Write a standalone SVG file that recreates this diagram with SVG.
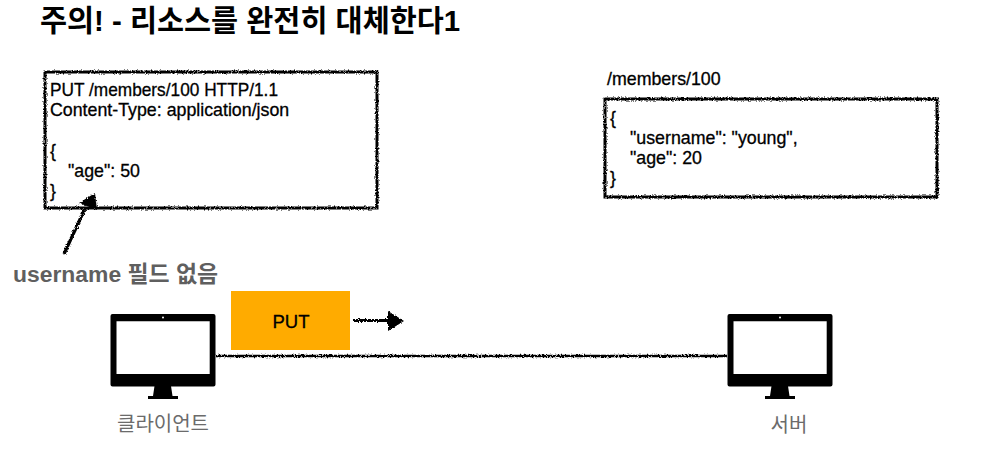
<svg xmlns="http://www.w3.org/2000/svg" width="994" height="473" viewBox="0 0 994 473">
<style>
text{font-family:"Liberation Sans","Noto Sans CJK KR",sans-serif;fill:#000}
.t{font-size:17.800px;stroke:#000;stroke-width:.3px}
.box{fill:#fff;stroke:#000;stroke-width:3;filter:url(#rough)}
.line{fill:none;stroke:#000;filter:url(#rough)}
.lbl{font-size:20px;fill:#6b6b6b;text-anchor:middle}
</style>
<defs>
<filter id="rough" x="0" y="0" width="994" height="473" filterUnits="userSpaceOnUse" primitiveUnits="userSpaceOnUse">
<feTurbulence type="fractalNoise" baseFrequency="0.7" numOctaves="2" seed="4" result="n"/>
<feDisplacementMap in="SourceGraphic" in2="n" scale="3.500" xChannelSelector="R" yChannelSelector="G"/>
</filter>
<g id="monitor">
<path fill-rule="evenodd" d="M112.500 314H213.500Q215.500 314 215.500 316V384.500Q215.500 386.500 213.500 386.500H112.500Q110.500 386.500 110.500 384.500V316Q110.500 314 112.500 314ZM116.500 321.300V374H209.700V321.300Z"/>
<path d="M154.500 386H171L172.500 396H178V399H148V396H153Z"/>
<circle cx="163" cy="317.500" r="1" fill="#fff"/>
</g>
</defs>
<g id="title"><text x="40" y="31" style="font-size:29.400px;font-weight:700">주의! - 리소스를 완전히 대체한다1</text></g>
<g id="connectors">
<path class="line" stroke-width="2.600" d="M216 356H727"/>
<path class="line" stroke-width="2.800" d="M353 320.500H388"/>
<path d="M388 311L404 321L388 331Z" filter="url(#rough)"/>
<path class="line" stroke-width="3.200" d="M64 254L88 202"/>
</g>
<g id="request">
<rect class="box" x="45" y="72" width="332" height="136"/>
<text class="t" x="50" y="96" textLength="228" lengthAdjust="spacingAndGlyphs">PUT /members/100 HTTP/1.1</text>
<text class="t" x="50" y="116">Content-Type: application/json</text>
<text class="t" x="50" y="157">{</text>
<text class="t" x="68" y="177">"age": 50</text>
<text class="t" x="50" y="197">}</text>
</g>
<g id="arrowhead"><path d="M95 193L79 203L97 210Z" filter="url(#rough)"/></g>
<g id="note"><text x="13" y="282" style="font-size:22.900px;font-weight:700;fill:#5f5f5f">username 필드 없음</text></g>
<g id="resource-label"><text class="t" x="607" y="85">/members/100</text></g>
<g id="resource">
<rect class="box" x="605" y="99" width="332" height="98"/>
<text class="t" x="610" y="124">{</text>
<text class="t" x="630" y="144">"username": "young",</text>
<text class="t" x="630" y="164">"age": 20</text>
<text class="t" x="610" y="184">}</text>
</g>
<g id="put"><rect x="231" y="291" width="119" height="59" fill="#ffab00"/><text x="291" y="328" text-anchor="middle" style="font-size:18.500px;stroke:#000;stroke-width:.3px">PUT</text></g>
<g id="client"><use href="#monitor"/><text class="lbl" x="163" y="431">클라이언트</text></g>
<g id="server"><use href="#monitor" x="617"/><text class="lbl" x="789" y="432">서버</text></g>
</svg>
